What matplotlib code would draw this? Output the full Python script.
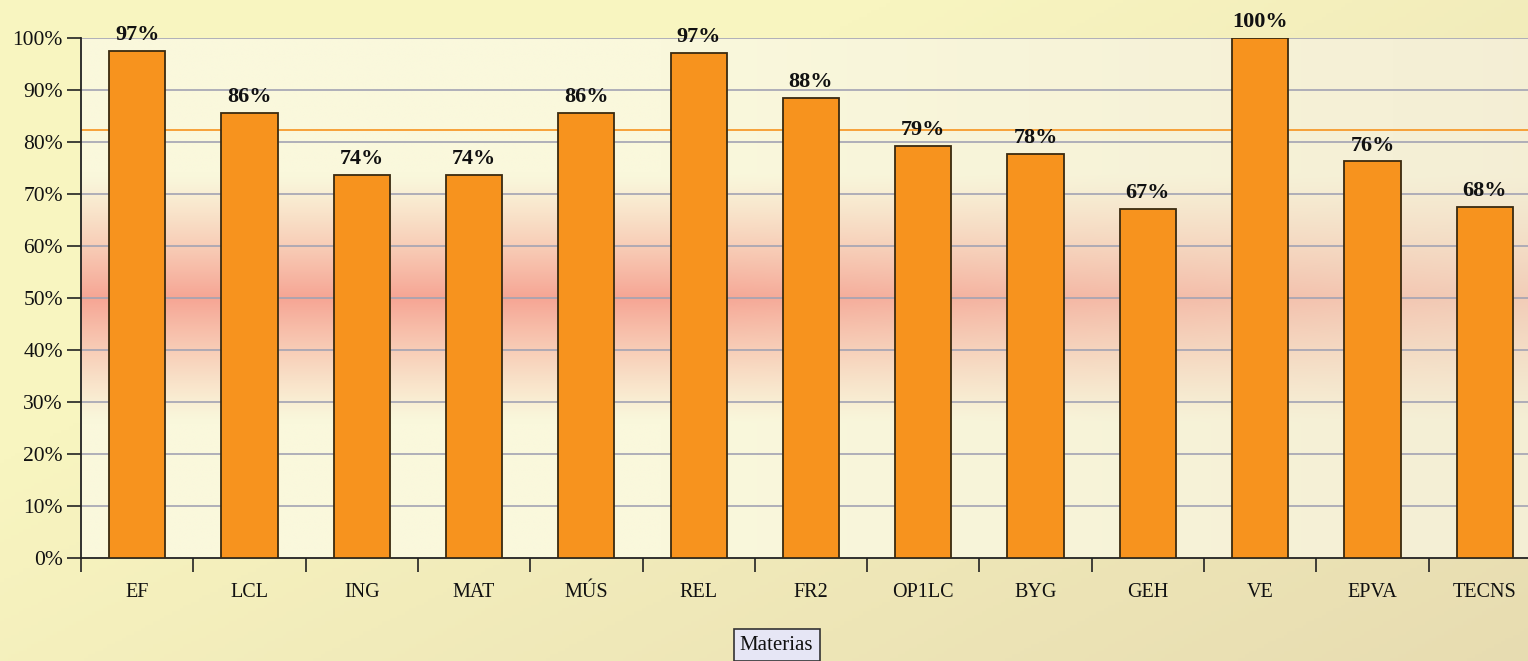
import numpy as np
import matplotlib
matplotlib.use("Agg")
import matplotlib.pyplot as plt

categories = ["EF", "LCL", "ING", "MAT", "MÚS", "REL", "FR2", "OP1LC", "BYG", "GEH", "VE", "EPVA", "TECNS"]
values = [0.975, 0.856, 0.737, 0.737, 0.856, 0.971, 0.885, 0.792, 0.777, 0.671, 1.0, 0.763, 0.675]
labels = ["97%", "86%", "74%", "74%", "86%", "97%", "88%", "79%", "78%", "67%", "100%", "76%", "68%"]
mean_line = 0.823
yticks = [0, 0.1, 0.2, 0.3, 0.4, 0.5, 0.6, 0.7, 0.8, 0.9, 1.0]
ytick_labels = ["0%", "10%", "20%", "30%", "40%", "50%", "60%", "70%", "80%", "90%", "100%"]

plt.rcParams['font.family'] = ['Liberation Serif', 'DejaVu Serif']

W, H = 1528, 661
fig = plt.figure(figsize=(W / 100, H / 100), dpi=100)

# figure background: diagonal gradient
bg = fig.add_axes([0, 0, 1, 1], zorder=-10)
bg.set_axis_off()
yy, xx = np.mgrid[0:1:200j, 0:1:400j]
t = np.clip(0.6 * xx + 0.5 * yy - 0.35, 0, 1)
c0 = np.array([248, 245, 192]) / 255
c1 = np.array([226, 212, 172]) / 255
img = c0[None, None, :] * (1 - t[..., None]) + c1[None, None, :] * t[..., None]
bg.imshow(img, extent=[0, 1, 0, 1], aspect='auto', origin='upper')
bg.set_xlim(0, 1)
bg.set_ylim(0, 1)

left = 81 / W
bottom = (H - 558) / H
height = 520 / H
width = 13 * 112.3 / W
ax = fig.add_axes([left, bottom, width, height])

# plot area background: vertical band gradient + horizontal tint
ny, nx = 300, 200
ys = np.linspace(1, 0, ny)
xs = np.linspace(0, 1, nx)
cream = np.array([250, 248, 220]) / 255
red = np.array([246, 165, 148]) / 255
tan = np.array([240, 232, 208]) / 255

def band(y):
    d = abs(y - 0.5)
    if d > 0.24:
        return 0.0
    return (1 - d / 0.24) ** 1.2

area = np.zeros((ny, nx, 3))
for i, y in enumerate(ys):
    b = band(y)
    area[i, :, :] = cream * (1 - b) + red * b
h = np.clip((xs - 0.4) / 0.6, 0, 1)[None, :, None] * 0.6
area = area * (1 - h) + tan[None, None, :] * h
ax.imshow(area, extent=[0, 1, 0, 1], transform=ax.transAxes, aspect='auto', zorder=0)

x = np.arange(len(categories))
ax.set_xlim(-0.5, len(categories) - 0.5)
ax.set_ylim(0, 1.0)

for yt in yticks[1:]:
    ax.axhline(yt, color='#A3A3B3', lw=1.2, zorder=1)

ax.bar(x, values, width=0.5, color='#F7931E', edgecolor='#3A2A10', linewidth=1.3, zorder=3)
ax.axhline(mean_line, color='#F7931E', lw=1.2, zorder=2)

for xi, v, lab in zip(x, values, labels):
    ax.text(xi, v + 0.011, lab, ha='center', va='bottom', fontsize=16, fontweight='bold', color='#111111', zorder=5)

ax.set_yticks(yticks)
ax.set_yticklabels(ytick_labels, fontsize=15.5, color='#111111')
ax.set_xticks(x)
ax.set_xticklabels(categories, fontsize=14.5, color='#111111')
ax.set_xticks(np.arange(-0.5, len(categories), 1.0), minor=True)
ax.tick_params(axis='x', which='major', length=0, pad=18)
ax.tick_params(axis='x', which='minor', length=10, width=1.2, direction='out', color='#222222')
ax.tick_params(axis='y', length=10, width=1.2, direction='out', color='#222222', pad=3)

for s in ['top', 'right']:
    ax.spines[s].set_visible(False)
for s in ['left', 'bottom']:
    ax.spines[s].set_color('#222222')
    ax.spines[s].set_linewidth(1.3)

fig.text(776.5 / W, 16 / H, "Materias", ha='center', va='center', fontsize=15, color='#111111',
         bbox=dict(boxstyle='square,pad=0.3', facecolor='#E6E6F5', edgecolor='#333333', linewidth=1.2))

fig.savefig("out.png", dpi=100)
